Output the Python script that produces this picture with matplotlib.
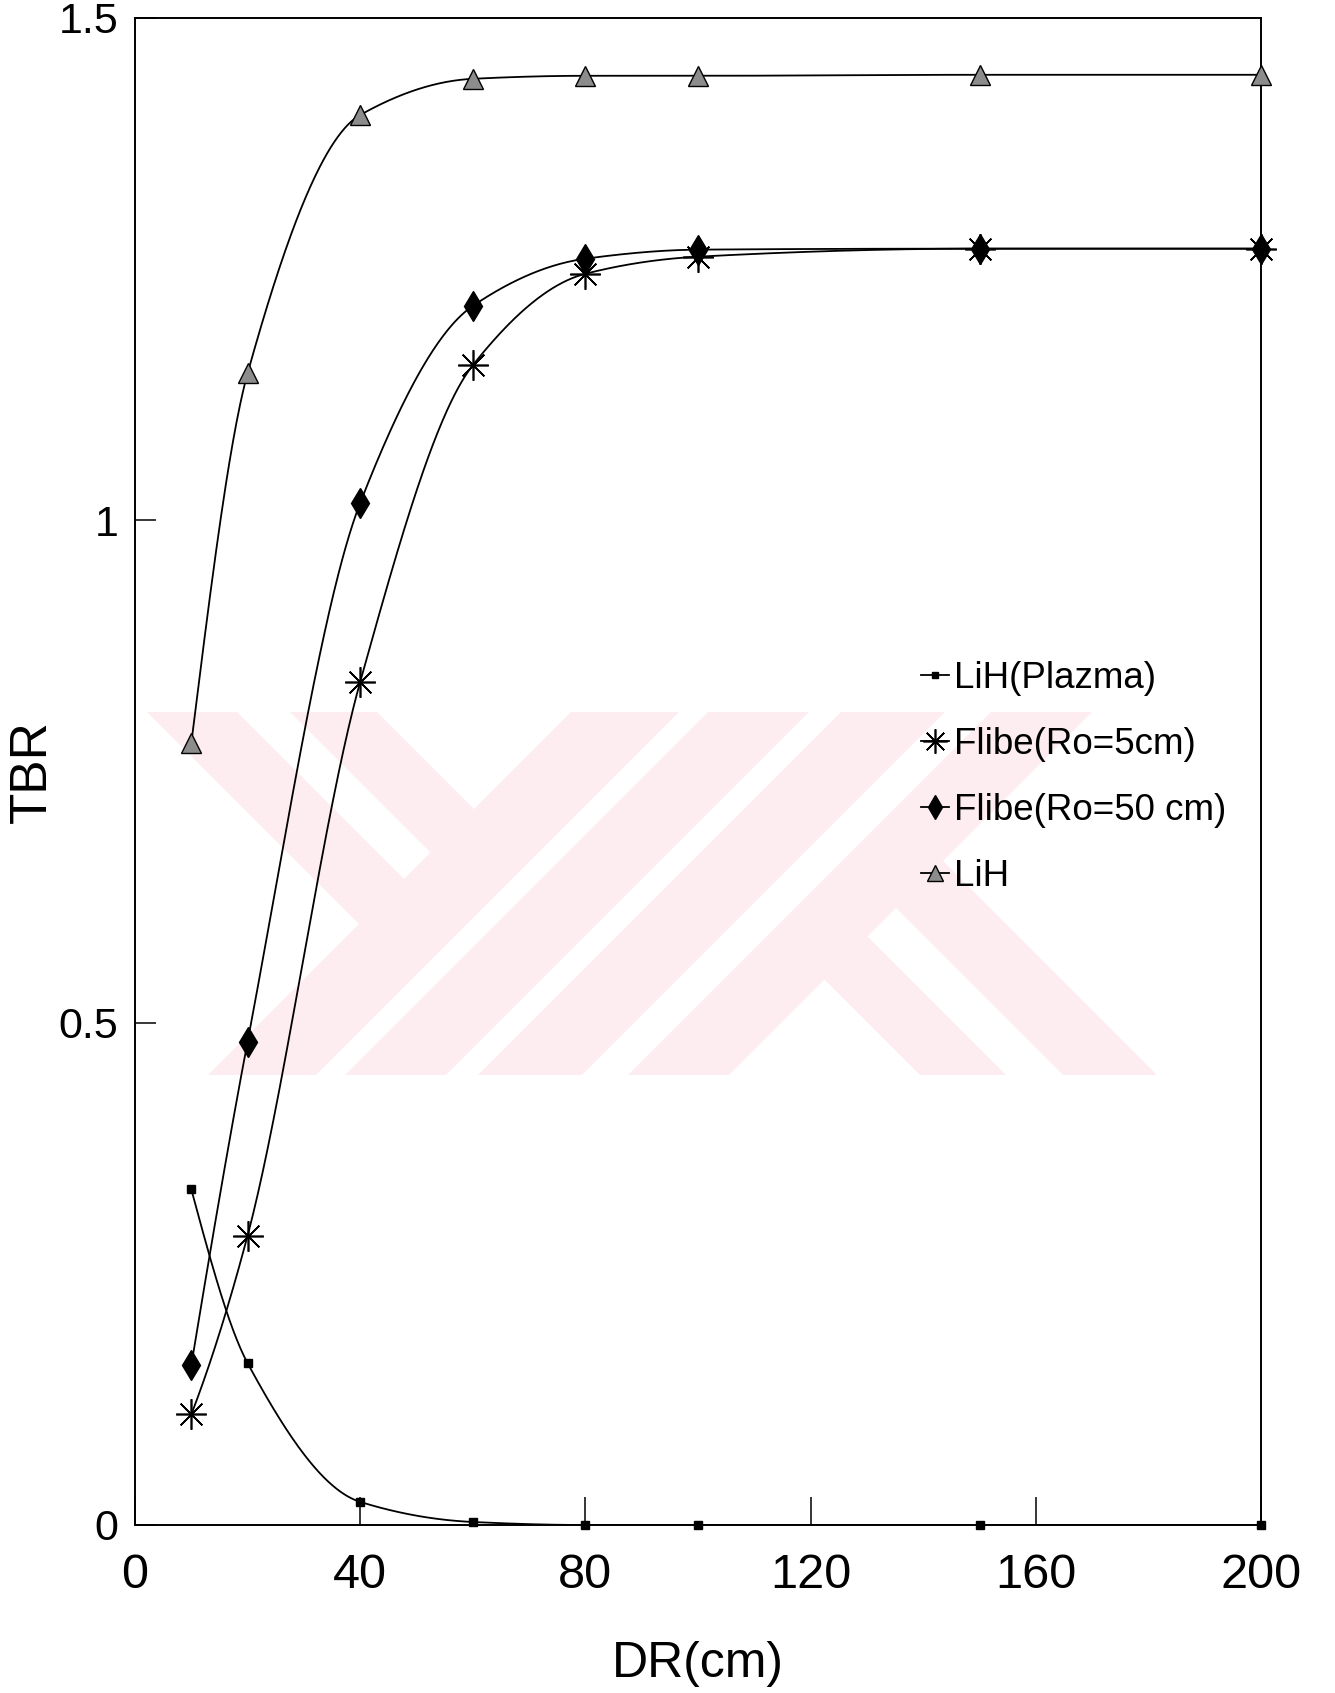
import numpy as np
import matplotlib.pyplot as plt
from matplotlib.patches import Polygon
from matplotlib.legend_handler import HandlerTuple

plt.rcParams['font.family'] = ['Liberation Sans', 'DejaVu Sans']
NARROW = ['Liberation Sans Narrow', 'Liberation Sans', 'DejaVu Sans']

# blanket thickness DR (cm) and tritium breeding ratio
dr = [10, 20, 40, 60, 80, 100, 150, 200]
lih_plazma = [0.334, 0.161, 0.023, 0.003, 0.0, 0.0, 0.0, 0.0]
flibe_ro5 = [0.110, 0.288, 0.839, 1.154, 1.245, 1.262, 1.270, 1.270]
flibe_ro50 = [0.159, 0.481, 1.017, 1.213, 1.260, 1.269, 1.270, 1.270]
lih = [0.778, 1.146, 1.403, 1.439, 1.442, 1.442, 1.443, 1.443]

labels = ['LiH(Plazma)', 'Flibe(Ro=5cm)', 'Flibe(Ro=50 cm)', 'LiH']
x_ticks = [0, 40, 80, 120, 160, 200]
y_ticks = [0, 0.5, 1, 1.5]
y_ticklabels = ['0', '0.5', '1', '1.5']

W, H = 1335, 1693


def pchip(x, y, xs):
    x = np.asarray(x, float)
    y = np.asarray(y, float)
    h = np.diff(x)
    s = np.diff(y) / h
    d = np.zeros_like(y)
    for k in range(1, len(x) - 1):
        if s[k - 1] * s[k] > 0:
            w1 = 2 * h[k] + h[k - 1]
            w2 = h[k] + 2 * h[k - 1]
            d[k] = (w1 + w2) / (w1 / s[k - 1] + w2 / s[k])

    def end_slope(h0, h1, s0, s1):
        e = ((2 * h0 + h1) * s0 - h0 * s1) / (h0 + h1)
        if np.sign(e) != np.sign(s0):
            return 0.0
        if np.sign(s0) != np.sign(s1) and abs(e) > abs(3 * s0):
            return 3 * s0
        return e

    d[0] = end_slope(h[0], h[1], s[0], s[1])
    d[-1] = end_slope(h[-1], h[-2], s[-1], s[-2])
    idx = np.clip(np.searchsorted(x, xs) - 1, 0, len(x) - 2)
    t = (xs - x[idx]) / h[idx]
    h00 = 2 * t**3 - 3 * t**2 + 1
    h10 = t**3 - 2 * t**2 + t
    h01 = -2 * t**3 + 3 * t**2
    h11 = t**3 - t**2
    return (h00 * y[idx] + h10 * h[idx] * d[idx]
            + h01 * y[idx + 1] + h11 * h[idx] * d[idx + 1])


def draw_logo(fig, ax, color='#fdedf0'):
    # faint striped logo behind the curves, built from 45 degree bands (pixel coords)
    top, bot = 712, 1075

    def slash(c1, c2):
        return [(c1 - top, top), (c2 - top, top), (c2 - bot, bot), (c1 - bot, bot)]

    def y_arm(d1, d2, c=1283):
        return [(top + d1, top), (top + d2, top),
                ((c + d2) / 2, (c - d2) / 2), ((c + d1) / 2, (c - d1) / 2)]

    def k_arm(d1, d2, c=1804):
        return [((c + d1) / 2, (c - d1) / 2), ((c + d2) / 2, (c - d2) / 2),
                (bot + d2, bot), (bot + d1, bot)]

    pieces = [y_arm(-565, -475), y_arm(-422, -335),
              slash(1283, 1391), slash(1420, 1521), slash(1553, 1657), slash(1703, 1804),
              k_arm(-155, -69), k_arm(-12, 82)]
    for pts in pieces:
        frac = [(px / W, 1 - py / H) for px, py in pts]
        ax.add_patch(Polygon(frac, closed=True, transform=fig.transFigure,
                             facecolor=color, edgecolor='none', zorder=0.5))


fig = plt.figure(figsize=(W / 100, H / 100), dpi=100)
left, right, top_px, bottom_px = 135, 1261, 17.5, 1525
ax = fig.add_axes([left / W, 1 - bottom_px / H, (right - left) / W, (bottom_px - top_px) / H])

draw_logo(fig, ax)

xs = np.linspace(dr[0], dr[-1], 900)
styles = [
    dict(marker='s', ms=6, mfc='black', mec='black'),
    dict(marker=(8, 2, 0), ms=22, mfc='none', mec='black', mew=1.2),
    dict(marker='d', ms=15, mfc='black', mec='black'),
    dict(marker='^', ms=15, mfc='#8c8c8c', mec='black', mew=1.0),
]
handles = []
for vals, st in zip([lih_plazma, flibe_ro5, flibe_ro50, lih], styles):
    curve, = ax.plot(xs, pchip(dr, vals, xs), color='black', lw=1.3, zorder=2)
    marks, = ax.plot(dr, vals, linestyle='none', zorder=3, clip_on=False, **st)
    handles.append((curve, marks))

ax.set_xlim(0, 200)
ax.set_ylim(0, 1.5)
ax.set_xticks(x_ticks)
ax.set_xticklabels([str(v) for v in x_ticks], family=NARROW)
ax.set_yticks(y_ticks)
ax.set_yticklabels(y_ticklabels)
ax.tick_params(axis='x', direction='in', length=20, width=1.1, pad=20, labelsize=35)
ax.tick_params(axis='y', direction='in', length=15, width=1.1, pad=12, labelsize=31)
for sp in ax.spines.values():
    sp.set_linewidth(1.4)

ax.set_xlabel('DR(cm)', fontsize=36, family=NARROW)
ax.xaxis.set_label_coords(0.5, (bottom_px - 1641) / (bottom_px - top_px))
ax.set_ylabel('TBR', fontsize=37, family=NARROW)
ax.yaxis.set_label_coords((57 - left) / (right - left), 0.5)

ax.legend(handles, labels, handler_map={tuple: HandlerTuple(ndivide=1, pad=0)},
          loc='upper left', bbox_to_anchor=(921 / W, 1 - 661 / H),
          bbox_transform=fig.transFigure, frameon=False, fontsize=26.5,
          numpoints=1, markerscale=0.8, handlelength=0.75, handletextpad=0.15,
          labelspacing=0.84, borderpad=0, borderaxespad=0)

fig.savefig('out.png', dpi=100)
